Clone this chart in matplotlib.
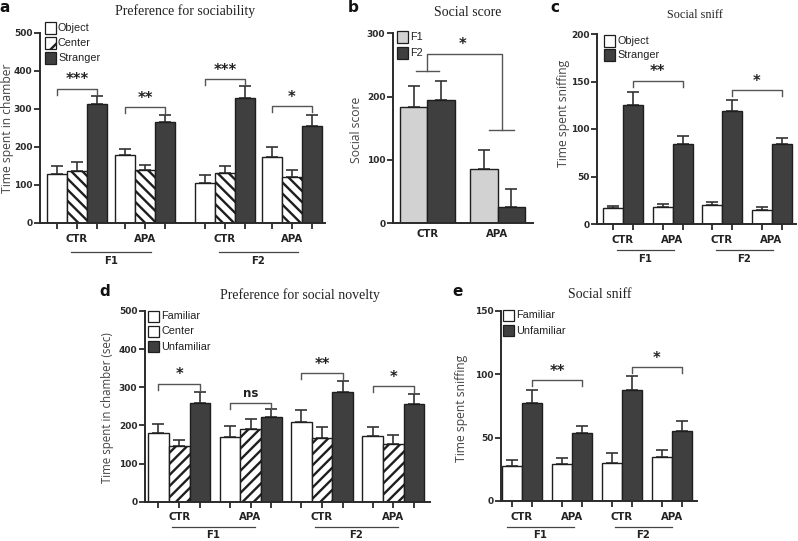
import matplotlib

matplotlib.use("Agg")
import matplotlib.pyplot as plt
import matplotlib.transforms as mtransforms
from matplotlib.patches import Rectangle
import numpy as np

W, H = 798, 541

# ---- data ----
groups = ["CTR", "APA", "CTR", "APA"]
gens = ["F1", "F2"]

# a: preference for sociability
a_object = [130, 180, 106, 175]
a_object_sem = [20, 15, 20, 25]
a_center = [138, 140, 132, 120]
a_center_sem = [22, 12, 17, 19]
a_stranger = [313, 265, 330, 256]
a_stranger_sem = [21, 20, 30, 27]
a_sig = ["***", "**", "***", "*"]
a_sig_y = [353, 305, 379, 307]

# b: social score
b_groups = ["CTR", "APA"]
b_f1 = [183, 85]
b_f1_sem = [34, 31]
b_f2 = [195, 26]
b_f2_sem = [29, 28]
b_sig_y = [240, 268, 147]

# c: social sniff (sociability)
c_object = [16.5, 17.5, 20, 15]
c_object_sem = [2.5, 3.5, 3, 2.5]
c_stranger = [125, 84, 119, 84]
c_stranger_sem = [14, 9, 12, 7]
c_sig = ["**", "*"]
c_sig_y = [151, 141]

# d: preference for social novelty
d_familiar = [179, 170, 210, 172]
d_familiar_sem = [26, 28, 30, 23]
d_center = [145, 191, 168, 151]
d_center_sem = [17, 25, 29, 23]
d_unfamiliar = [260, 221, 288, 256]
d_unfamiliar_sem = [28, 21, 29, 26]
d_sig = ["*", "ns", "**", "*"]
d_sig_y = [309, 260, 337, 303]

# e: social sniff (novelty)
e_familiar = [28, 29.5, 30, 34.7]
e_familiar_sem = [4.6, 4.5, 7.6, 5.3]
e_unfamiliar = [77, 54, 88, 55]
e_unfamiliar_sem = [11, 5, 10.7, 8]
e_sig = ["**", "*"]
e_sig_y = [95.5, 105.5]

DARK = "#3f3f3f"
EDGE = "#1e1e1e"
LINE = "#555555"
LIGHT = "#d2d2d2"

plt.rcParams["hatch.linewidth"] = 1.7
fig = plt.figure(figsize=(W / 100, H / 100), dpi=100)


def fx(px):
    return px / W


def fy(py):
    return 1 - py / H


def make_axes(left, right, top, bottom, xlim, ylim, yticks):
    ax = fig.add_axes([fx(left), fy(bottom), (right - left) / W, (bottom - top) / H])
    ax.set_xlim(xlim)
    ax.set_ylim(ylim)
    for s in ["top", "right"]:
        ax.spines[s].set_visible(False)
    for s in ["left", "bottom"]:
        ax.spines[s].set_linewidth(1.4)
        ax.spines[s].set_color("#2a2a2a")
    ax.set_yticks(yticks)
    ax.tick_params(axis="y", length=4, width=1.3, labelsize=6.5, pad=1.5, colors="#2a2a2a")
    for lab in ax.get_yticklabels():
        lab.set_fontweight("bold")
    ax.tick_params(axis="x", length=4, width=1.3, colors="#2a2a2a")
    ax.patch.set_alpha(0)
    ax.px_per_y = (bottom - top) / (ylim[1] - ylim[0])
    return ax


def bars(ax, x, mean, sem, color, hatch=None):
    ax.bar(x, mean, 1.0, color=color, edgecolor=EDGE, linewidth=1.0, hatch=hatch, zorder=2)
    ax.errorbar(x, mean, yerr=[np.zeros(len(mean)), sem], fmt="none", ecolor="#333333",
                elinewidth=1.2, capsize=4.5, capthick=1.2, zorder=1)


def bracket(ax, x1, x2, y, text, size=10.5):
    drop = 6 / ax.px_per_y
    ax.plot([x1, x1, x2, x2], [y - drop, y, y, y - drop], color=LINE, lw=1.0, clip_on=False)
    if text == "ns":
        ax.annotate(text, ((x1 + x2) / 2, y), xytext=(0, 2), textcoords="offset points",
                    ha="center", va="bottom", fontsize=8.5, fontweight="bold", color="#222")
    else:
        ax.annotate(text, ((x1 + x2) / 2, y), xytext=(0, 1), textcoords="offset points",
                    ha="center", va="bottom", fontsize=size, fontweight="bold", color="#222")


def xlabels(ax, label_x, label_py, line_spans, line_py, gen_py):
    tr = mtransforms.blended_transform_factory(ax.transData, fig.transFigure)
    for x, name in zip(label_x, groups):
        ax.text(x, fy(label_py), name, transform=tr, ha="center", va="center",
                fontsize=7.3, fontweight="bold", color="#222")
    for (x1, x2), g in zip(line_spans, gens):
        ax.plot([x1, x2], [fy(line_py)] * 2, transform=tr, color="#444", lw=0.9, clip_on=False)
        ax.text((x1 + x2) / 2, fy(gen_py), g, transform=tr, ha="center", va="center",
                fontsize=7.3, fontweight="bold", color="#222")


def legend(left_px, top_px, step, labels, styles):
    for i, (lab, (fc, hatch)) in enumerate(zip(labels, styles)):
        cy = top_px + i * step
        fig.add_artist(Rectangle((fx(left_px), fy(cy + 5.5)), 11 / W, 11 / H, transform=fig.transFigure,
                                 facecolor=fc, edgecolor=EDGE, lw=0.9, hatch=hatch))
        fig.text(fx(left_px + 13), fy(cy), lab, ha="left", va="center", fontsize=7.8,
                 family="Liberation Sans", color="#222")


def ylabel(px, py, text, size=8.7):
    fig.text(fx(px), fy(py), text, rotation=90, ha="center", va="center", fontsize=size,
             family="Open Sans", color="#444")


def title(px, py, text, size=10):
    fig.text(fx(px), fy(py), text, ha="center", va="center", fontsize=size,
             family="Liberation Serif", color="#222")


def letter(px, py, text):
    fig.text(fx(px), fy(py), text, ha="center", va="center", fontsize=11, fontweight="bold", color="#111")


# ---------------- panel a ----------------
ax = make_axes(40, 325, 33, 223, (0, 14.25), (0, 500), [0, 100, 200, 300, 400, 500])
start = 0.35 + np.array([0, 3.4, 7.4, 10.75])
bars(ax, start + 0.5, a_object, a_object_sem, "white")
bars(ax, start + 1.5, a_center, a_center_sem, "white", "\\\\\\")
bars(ax, start + 2.5, a_stranger, a_stranger_sem, DARK)
ax.set_xticks(np.concatenate([start + 0.5, start + 1.5, start + 2.5]))
ax.set_xticklabels([])
for s, t, y in zip(start, a_sig, a_sig_y):
    bracket(ax, s + 0.5, s + 2.5, y, t)
xlabels(ax, start + 1.5, 239, [(start[0] + 1.2, start[1] + 1.8), (start[2] + 1.2, start[3] + 1.8)], 252, 261)
legend(45, 28, 15, ["Object", "Center", "Stranger"], [("white", None), ("white", "/"), (DARK, None)])
ylabel(8, 128, "Time spent in chamber")
title(185, 11, "Preference for sociability")
letter(5, 8, "a")

# ---------------- panel b ----------------
ax = make_axes(393, 533, 33.3, 223.3, (0, 140 / 27.5), (0, 300), [0, 100, 200, 300])
start = 0.25 + np.array([0, 2.55])
bars(ax, start + 0.5, b_f1, b_f1_sem, LIGHT)
bars(ax, start + 1.5, b_f2, b_f2_sem, DARK)
ax.set_xticks([])
c1, c2 = start + 1.0
y_low, y_top, y_apa = b_sig_y
ax.plot([c1 - 0.42, c1 + 0.42], [y_low] * 2, color=LINE, lw=1.0)
ax.plot([c1, c1, c2 + 0.15, c2 + 0.15], [y_low, y_top, y_top, y_apa], color=LINE, lw=1.0)
ax.plot([c2 - 0.3, c2 + 0.6], [y_apa] * 2, color=LINE, lw=1.0)
ax.annotate("*", ((c1 + c2) / 2, y_top), xytext=(0, 1), textcoords="offset points",
            ha="center", va="bottom", fontsize=10.5, fontweight="bold", color="#222")
tr = mtransforms.blended_transform_factory(ax.transData, fig.transFigure)
for x, name in zip(start + 1.0, b_groups):
    ax.text(x, fy(234), name, transform=tr, ha="center", va="center", fontsize=7.3,
            fontweight="bold", color="#222")
legend(397, 37, 16, ["F1", "F2"], [(LIGHT, None), (DARK, None)])
ylabel(356, 130, "Social score")
title(468, 13, "Social score")
letter(353, 8, "b")

# ---------------- panel c ----------------
ax = make_axes(597, 796, 34, 224, (0, 199 / 20), (0, 200), [0, 50, 100, 150, 200])
start = 0.3 + np.arange(4) * 2.475
bars(ax, start + 0.5, c_object, c_object_sem, "white")
bars(ax, start + 1.5, c_stranger, c_stranger_sem, DARK)
ax.set_xticks(np.concatenate([start + 0.5, start + 1.5]))
ax.set_xticklabels([])
for k, (t, y) in enumerate(zip(c_sig, c_sig_y)):
    bracket(ax, start[2 * k] + 1.5, start[2 * k + 1] + 1.5, y, t)
xlabels(ax, start + 1.0, 240, [(start[0] + 0.7, start[1] + 1.05), (start[2] + 0.7, start[3] + 1.05)], 250, 259)
legend(604, 41, 14, ["Object", "Stranger"], [("white", None), (DARK, None)])
ylabel(563, 113, "Time spent sniffing")
title(695, 15, "Social sniff", size=8.7)
letter(555, 8, "c")

# ---------------- panel d ----------------
ax = make_axes(145, 430, 311, 501.7, (0, 285 / 20.7), (0, 500), [0, 100, 200, 300, 400, 500])
start = 0.15 + np.arange(4) * 3.45
bars(ax, start + 0.5, d_familiar, d_familiar_sem, "white")
bars(ax, start + 1.5, d_center, d_center_sem, "white", "///")
bars(ax, start + 2.5, d_unfamiliar, d_unfamiliar_sem, DARK)
ax.set_xticks(np.concatenate([start + 0.5, start + 1.5, start + 2.5]))
ax.set_xticklabels([])
for s, t, y in zip(start, d_sig, d_sig_y):
    bracket(ax, s + 0.5, s + 2.5, y, t)
xlabels(ax, start + 1.5, 517, [(start[0] + 1.15, start[1] + 1.7), (start[2] + 1.15, start[3] + 1.7)], 527, 535)
legend(148, 316, 15.3, ["Familiar", "Center", "Unfamiliar"], [("white", None), ("white", "/"), (DARK, None)])
ylabel(107, 408, "Time spent in chamber (sec)", size=8.3)
title(300, 295, "Preference for social novelty")
letter(105, 292, "d")

# ---------------- panel e ----------------
ax = make_axes(501, 697, 311, 501, (0, 196 / 20), (0, 150), [0, 50, 100, 150])
start = 0.05 + np.arange(4) * 2.5
bars(ax, start + 0.5, e_familiar, e_familiar_sem, "white")
bars(ax, start + 1.5, e_unfamiliar, e_unfamiliar_sem, DARK)
ax.set_xticks(np.concatenate([start + 0.5, start + 1.5]))
ax.set_xticklabels([])
for k, (t, y) in enumerate(zip(e_sig, e_sig_y)):
    bracket(ax, start[2 * k] + 1.5, start[2 * k + 1] + 1.5, y, t)
xlabels(ax, start + 1.0, 517, [(start[0] + 0.25, start[1] + 1.1), (start[2] + 0.65, start[3] + 1.0)], 527, 535)
legend(503, 315, 15.7, ["Familiar", "Unfamiliar"], [("white", None), (DARK, None)])
ylabel(461, 408, "Time spent sniffing")
title(600, 295, "Social sniff")
letter(458, 292, "e")

fig.savefig("out.png", dpi=100)
